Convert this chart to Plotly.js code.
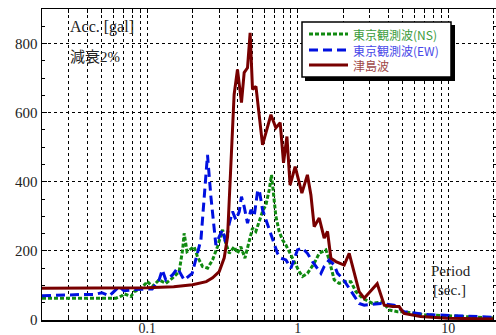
<!DOCTYPE html>
<html>
<head>
<meta charset="utf-8">
<script src="https://cdn.plot.ly/plotly-3.0.1.min.js"></script>
<style>
html,body{margin:0;padding:0;background:#fff;}
#chart{width:496px;height:335px;}
</style>
</head>
<body>
<div id="chart"></div>
<script>
// Period [sec.] and spectral acceleration [gal]
const nsPeriod = [0.02,0.05,0.062,0.068,0.070,0.078,0.082,0.0885,0.091,0.098,0.1,0.108,0.12,0.133,0.147,0.163,0.172,0.176,0.184,0.205,0.216,0.233,0.252,0.272,0.293,0.317,0.333,0.351,0.3785,0.398,0.419,0.446,0.476,0.501,0.527,0.555,0.584,0.615,0.647,0.670,0.698,0.716,0.7535,0.7925,0.835,0.878,0.948,1.023,1.076,1.16,1.287,1.39,1.539,1.619,1.748,1.887,2.037,2.257,2.436,2.696,3.141,3.66,4.055,4.60,5.08,7,10,20];
const nsAcc    = [63,63,63,70,76,68,82,88,92,106,112,97,116,106,121,140,203,251,198,212,183,155,150,174,212,261,222,193,212,193,212,179,232,266,256,285,314,333,377,420,338,300,256,232,217,198,169,140,126,135,164,193,203,174,116,106,111,111,82,63,48,53,29,24,24,15,12,6];

const ewPeriod = [0.02,0.027,0.029,0.038,0.0445,0.050,0.056,0.065,0.070,0.0885,0.108,0.120,0.126,0.133,0.147,0.159,0.176,0.199,0.2275,0.239,0.2516,0.265,0.279,0.286,0.301,0.3165,0.333,0.351,0.369,0.3885,0.409,0.423,0.441,0.464,0.489,0.514,0.541,0.555,0.584,0.615,0.664,0.698,0.734,0.773,0.835,0.901,0.948,0.997,1.076,1.16,1.254,1.354,1.427,1.50,1.619,1.748,1.839,1.985,2.199,2.373,2.56,2.767,3.141,3.57,4.36,5.08,7,10,20];
const ewAcc    = [70,72,74,74,74,79,70,96,85,89,90,116,145,116,130,150,116,135,232,357,478,357,261,217,241,261,222,280,314,290,314,357,328,280,319,300,372,377,319,290,246,222,193,179,174,150,179,203,208,193,169,150,135,155,174,159,135,121,92,68,48,43,46,48,43,24,16,14,8];

const tsPeriod = [0.02,0.05,0.1,0.15,0.2,0.247,0.272,0.301,0.325,0.342,0.36,0.378,0.398,0.423,0.441,0.464,0.483,0.501,0.528,0.584,0.664,0.716,0.765,0.805,0.848,0.89,0.962,1.066,1.16,1.224,1.287,1.39,1.50,1.578,1.662,1.794,2.037,2.199,2.56,2.767,3.375,3.76,4.265,4.72,5.08,6.55,9.85,20];
const tsAcc    = [92,92,93,96,102,111,122,140,180,241,430,652,725,629,716,730,831,667,676,507,594,556,571,455,531,390,444,367,420,362,270,295,237,256,179,169,159,193,82,63,105,43,39,39,19,10,5,3];

const seriesNames = ['東京観測波(NS)','東京観測波(EW)','津島波'];
const xTickVals = [0.02,0.03,0.04,0.05,0.06,0.07,0.08,0.09,0.1,0.2,0.3,0.4,0.5,0.6,0.7,0.8,0.9,1,2,3,4,5,6,7,8,9,10,20];
const xTickText = ['','','','','','','','','0.1','','','','','','','','','1','','','','','','','','','10',''];
const yTickVals = [0,200,400,600,800];

const lineColors = ['#108a10', '#0010e0', '#780000'];
const textColors = ['#3c9c3c', '#4848e8', '#a04848'];
const dashes = ['4px,2px', '9px,5px', 'solid'];
const serif = 'Liberation Serif, Times New Roman, Noto Sans CJK JP, serif';

const xs = [nsPeriod, ewPeriod, tsPeriod];
const ys = [nsAcc, ewAcc, tsAcc];
const traces = xs.map((x, i) => ({
  x: x, y: ys[i], type: 'scatter', mode: 'lines', name: seriesNames[i], showlegend: false,
  line: {color: lineColors[i], width: 3, dash: dashes[i]}
}));

const L = 42, R = 0, T = 9, B = 15;
const W = 496, H = 335;
const pw = W - L - R, ph = H - T - B;
const pxPerDecade = 150.5;
const xmin = Math.log10(0.02);
const xmax = xmin + pw / pxPerDecade;
const px = v => (v - L) / pw;          // pixel -> paper x
const py = v => (H - B - v) / ph;      // pixel -> paper y

// hand-drawn legend box (with drop shadow) to match the original
const shapes = [
  {type:'rect', xref:'paper', yref:'paper', layer:'above', x0: px(305), x1: px(455), y0: py(81), y1: py(25),
   fillcolor:'#000', line:{width:0}},
  {type:'rect', xref:'paper', yref:'paper', layer:'above', x0: px(302), x1: px(451), y0: py(77), y1: py(22),
   fillcolor:'#fff', line:{color:'#000', width:1.5}}
];
const rowY = [34, 50, 65];
rowY.forEach((yy, i) => {
  shapes.push({type:'line', xref:'paper', yref:'paper', layer:'above', x0: px(309), x1: px(348), y0: py(yy), y1: py(yy),
               line:{color: lineColors[i], width: 3, dash: dashes[i]}});
});
const legendText = seriesNames.map((n, i) => '<span style="color:' + textColors[i] + '">' + n + '</span>').join('<br>');
const annotations = [
  {xref:'paper', yref:'paper', x: px(352), y: py(49.5), xanchor:'left', yanchor:'middle', align:'left', showarrow:false,
   borderpad: 0, text: legendText, font:{family:'Noto Sans CJK JP, Liberation Serif, serif', size: 12, color: '#333'}},
  {xref:'paper', yref:'paper', x: px(68), y: py(27), xanchor:'left', yanchor:'middle', showarrow:false,
   text:'Acc. [gal]', font:{family: serif, size: 16, color:'#222'}},
  {xref:'paper', yref:'paper', x: px(68), y: py(57), xanchor:'left', yanchor:'middle', showarrow:false,
   text:'減衰2%', font:{family: 'Liberation Serif, Noto Sans CJK JP, serif', size: 15, color:'#222'}},
  {xref:'paper', yref:'paper', x: px(429), y: py(271), xanchor:'left', yanchor:'middle', showarrow:false,
   text:'Period', font:{family: serif, size: 15, color:'#222'}},
  {xref:'paper', yref:'paper', x: px(431), y: py(290), xanchor:'left', yanchor:'middle', showarrow:false,
   text:'[sec.]', font:{family: serif, size: 15, color:'#222'}}
];

const layout = {
  width: W, height: H,
  margin: {l: L, r: R, t: T, b: B, pad: 0},
  paper_bgcolor: '#fff', plot_bgcolor: '#fff',
  font: {family: serif, size: 14, color: '#222'},
  showlegend: false,
  xaxis: {type: 'log', range: [xmin, xmax], tickmode: 'array', tickvals: xTickVals, ticktext: xTickText,
          showgrid: true, gridcolor: '#000', griddash: 'dot', gridwidth: 1,
          showline: true, linecolor: '#000', linewidth: 1.5, mirror: 'ticks',
          ticks: 'inside', ticklen: 4, tickcolor: '#000', zeroline: false,
          ticklabelstandoff: -5,
          tickfont: {family: serif, size: 14, color: '#222'}},
  yaxis: {range: [0, 900], tickmode: 'array', tickvals: yTickVals,
          showgrid: true, gridcolor: '#000', griddash: 'dot', gridwidth: 1,
          showline: true, linecolor: '#000', linewidth: 1.5, mirror: 'ticks',
          ticks: 'inside', ticklen: 5, tickcolor: '#000', zeroline: false,
          minor: {dtick: 50, ticks: 'inside', ticklen: 3, tickcolor: '#000', showgrid: false},
          tickfont: {family: serif, size: 15, color: '#222'}},
  annotations: annotations,
  shapes: shapes
};

Plotly.newPlot('chart', traces, layout, {staticPlot: true});
</script>
</body>
</html>
